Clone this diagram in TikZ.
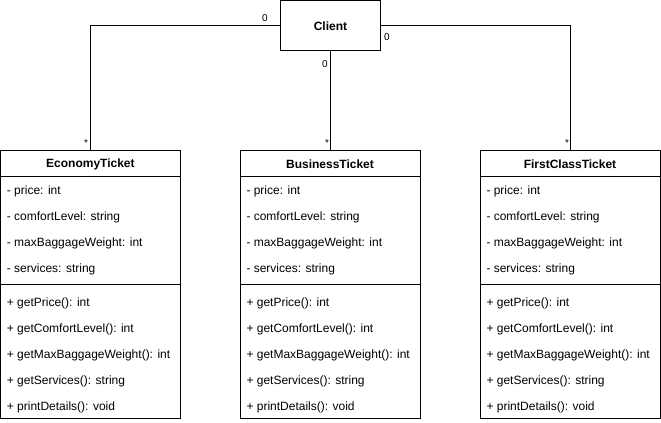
\documentclass[tikz,border=0pt]{standalone}
\usepackage{fontspec}
\setmainfont{Liberation Sans}
\tikzset{
    umlbox/.style={draw, line width=0.75pt, inner sep=0pt},
    rowtext/.style={anchor=west, inner sep=0pt, font=\fontsize{9}{10}\selectfont},
    multi/.style={inner sep=0pt, font=\fontsize{7.5}{8}\selectfont}
}
\begin{document}
\begin{tikzpicture}[x=0.75pt, y=-0.75pt, line width=0.75pt]
        \useasboundingbox (0,0) rectangle (661,422);
        % client
        \node[umlbox, minimum width=75pt, minimum height=37.5pt, anchor=north west, font=\bfseries\fontsize{9}{10}\selectfont] (client) at (280,0.4) {Client};
        % the three ticket classes
        \foreach \cname/\ctitle/\cx in {eco/EconomyTicket/0.4, bus/BusinessTicket/240, first/FirstClassTicket/480} {
            \node[umlbox, minimum width=135pt, minimum height=201pt, anchor=north west] (\cname) at (\cx,150) {};
            \node[font=\bfseries\fontsize{9}{10}\selectfont] (\cname-title) at (\cx+90,164.5) {\ctitle};
            \draw (\cx,176) -- ++(180,0);
            \draw (\cx,284) -- ++(180,0);
            \foreach \row [count=\i] in {- price: int, - comfortLevel: string, - maxBaggageWeight: int, - services: string}
                \node[rowtext] (\cname-a\i) at (\cx+6,191+26*\i-26) {\row};
            \foreach \row [count=\i] in {+ getPrice(): int, + getComfortLevel(): int, + getMaxBaggageWeight(): int, + getServices(): string, + printDetails(): void}
                \node[rowtext] (\cname-m\i) at (\cx+6,303+26*\i-26) {\row};
        }
        % associations
        \draw (client.west) -| (eco.north);
        \draw (client.south) -- (bus.north);
        \draw (client.east) -| (first.north);
        \node[multi] (m1) at (265,18) {0};
        \node[multi] (m2) at (86,143) {*};
        \node[multi] (m3) at (325,64) {0};
        \node[multi] (m4) at (327,143) {*};
        \node[multi] (m5) at (387,37) {0};
        \node[multi] (m6) at (567,143) {*};
    \end{tikzpicture}
\end{document}
